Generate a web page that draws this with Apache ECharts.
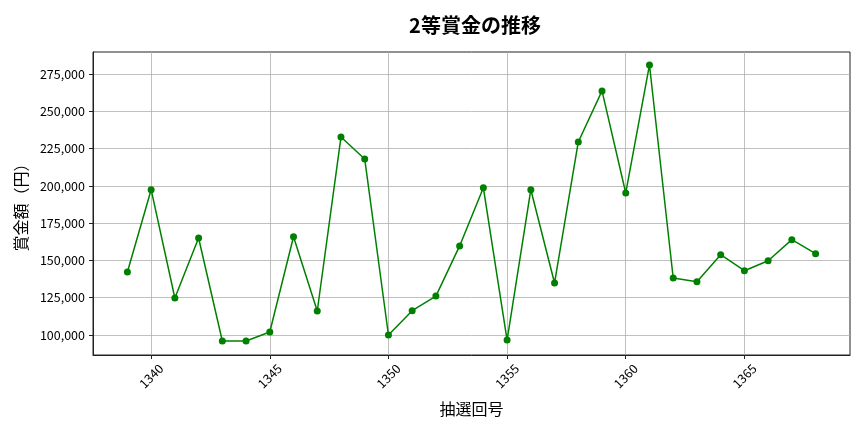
<!DOCTYPE html>
<html>
<head>
<meta charset="utf-8">
<script src="https://cdn.jsdelivr.net/npm/echarts@6/dist/echarts.min.js"></script>
<style>
html,body{margin:0;padding:0;background:#fff;}
#main{width:864px;height:432px;}
</style>
</head>
<body>
<div id="main"></div>
<script>
// 抽選回号
var draws = [1339,1340,1341,1342,1343,1344,1345,1346,1347,1348,1349,1350,1351,1352,1353,
             1354,1355,1356,1357,1358,1359,1360,1361,1362,1363,1364,1365,1366,1367,1368];
// 2等賞金（円）
var prizes = [142200,197400,124800,165000,96000,96000,102000,165900,116100,232700,218000,100000,116300,126100,159700,
              198700,96600,197400,134900,229400,263600,195200,281000,138200,135700,153800,143100,149800,163900,154500];
var xTicks = [1340,1345,1350,1355,1360,1365];
var yTicks = [100000,125000,150000,175000,200000,225000,250000,275000];

var points = [];
draws.forEach(function(d,i){
    points.push([d, prizes[i]]);
});

var jp = '"Noto Sans CJK JP", "Noto Sans", sans-serif';
var myChart = echarts.init(document.getElementById('main'));

var option = {
    animation: false,
    title: {
        text: '2等賞金の推移',
        left: 470,
        top: 10,
        textAlign: 'center',
        textStyle: {fontFamily: jp, fontSize: 20, fontWeight: 'bold', color: '#000'}
    },
    grid: {left: 93, right: 14, top: 52, bottom: 77, show: true, borderColor: '#222', borderWidth: 1, backgroundColor: 'transparent'},
    xAxis: {
        type: 'value',
        min: 1337.55,
        max: 1369.45,
        name: '抽選回号',
        nameLocation: 'middle',
        nameGap: 46,
        nameTextStyle: {fontFamily: jp, fontSize: 16, color: '#000'},
        axisLine: {onZero: false, lineStyle: {color: '#222', width: 1}},
        axisTick: {show: true, customValues: xTicks, length: 4, lineStyle: {color: '#222'}},
        axisLabel: {
            customValues: xTicks,
            rotate: 45,
            margin: 21,
            align: 'center',
            verticalAlign: 'middle',
            fontFamily: jp, fontSize: 12.5, color: '#000',
            formatter: function(v){ return String(v); }
        },
        splitLine: {show: true, lineStyle: {color: '#b0b0b0', width: 0.8}}
    },
    yAxis: {
        type: 'value',
        min: 86600,
        max: 289700,
        name: '賞金額（円）',
        nameLocation: 'middle',
        nameGap: 64,
        nameTextStyle: {fontFamily: jp, fontSize: 16, color: '#000'},
        axisLine: {show: true, lineStyle: {color: '#222', width: 1}},
        axisTick: {show: true, customValues: yTicks, length: 4, lineStyle: {color: '#222'}},
        axisLabel: {
            customValues: yTicks,
            fontFamily: jp, fontSize: 12.5, color: '#000',
            formatter: function(v){ return v.toLocaleString('en-US'); }
        },
        splitLine: {show: true, lineStyle: {color: '#b0b0b0', width: 0.8}}
    },
    series: [{
        type: 'line',
        data: points,
        symbol: 'circle',
        symbolSize: 7,
        lineStyle: {color: '#008000', width: 1.5},
        itemStyle: {color: '#008000'}
    }]
};
myChart.setOption(option);
</script>
</body>
</html>
